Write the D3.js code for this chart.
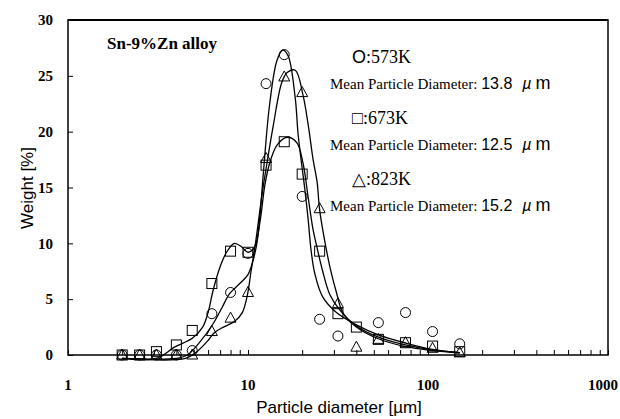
<!DOCTYPE html>
<html><head><meta charset="utf-8">
<script src="https://cdn.jsdelivr.net/npm/d3@7"></script>
<style>body{margin:0;background:#fff}</style>
</head><body>
<svg id="c" width="620" height="419"></svg>
<script>
// ---- data ----
const sizes = [2.0, 2.5, 3.1, 4.0, 4.9, 6.3, 8.0, 10, 12.6, 15.9, 20, 25, 31.6, 40, 53, 75, 106, 150];
const w573 = [0, 0, 0, 0, 0.4, 3.7, 5.6, 9.1, 24.3, 26.9, 14.2, 3.2, 1.7, null, 2.9, 3.8, 2.1, 1.0];
const w673 = [0, 0, 0.3, 0.9, 2.2, 6.4, 9.3, 9.2, 17.0, 19.1, 16.2, 9.3, 3.7, 2.5, 1.4, 1.1, 0.8, 0.3];
const w823 = [0, 0, 0, 0, 0, 2.1, 3.3, 5.6, 17.6, 24.9, 23.5, 13.1, 4.6, 0.7, 1.4, 1.1, 0.6, 0.2];

// fitted curves (x, weight)
const fit573 = [[2,-0.3],[4,-0.3],[4.6,0],[5.3,1.0],[6.4,2.8],[7.2,4.3],[7.9,5.5],[9,6.4],[10,7.2],[10.6,8.3],[11.2,10],[11.7,12.8],[12.2,16.5],[13.2,22.5],[14.5,26.4],[15.6,27.3],[16.7,26.8],[18.3,23],[19,19.7],[20.7,14.8],[21.6,12.1],[22.4,9.4],[23.5,7.3],[26,5.2],[31,3.8],[40,2.7],[53,1.8],[76,1.05],[106,0.5],[150,0.2]];
const fit673 = [[2,-0.3],[3.1,-0.3],[3.9,0.7],[4.9,1.5],[5.6,2.5],[6.0,3.8],[6.4,5.8],[7.0,7.9],[7.6,9.2],[8.4,10.0],[9.2,9.7],[10,9.2],[10.9,9.7],[11.7,12.1],[12.4,15.2],[13.2,17.2],[14.5,18.8],[16.5,19.5],[18.7,19.0],[20.2,17.2],[21.6,14.1],[23,11.2],[24.2,9.6],[26,7.5],[28.5,5.4],[32.5,4.0],[40,2.6],[53,1.6],[75,0.9],[106,0.45],[150,0.2]];
const fit823 = [[2,-0.3],[4.5,-0.3],[5.2,0.3],[6,1.3],[6.5,2.0],[7.3,2.5],[8.4,3.0],[9.3,3.8],[9.9,5.3],[10.4,7.5],[11,10],[12,14.5],[12.9,17.7],[13.8,20.5],[15.4,24.4],[16.5,25.3],[18.3,25.5],[20.2,23.3],[21.6,20.6],[23,17.5],[24.2,15.5],[25,13],[26.7,10.2],[28.5,7.9],[31,5.6],[33.6,3.8],[40,2.5],[52,1.5],[73,0.8],[106,0.4],[150,0.2]];

const yTicks = [0, 5, 10, 15, 20, 25, 30];
const xTicks = [1, 10, 100, 1000];
const legend = [
  {sym: "O", temp: ":573K", mean: "13.8"},
  {sym: "\u25A1", temp: ":673K", mean: "12.5"},
  {sym: "\u25B3", temp: ":823K", mean: "15.2"}
];

// ---- chart ----
const svg = d3.select("#c");
const L = 68, R = 608, T = 20, B = 355;
const x = d3.scaleLog().domain([1, 1000]).range([L, R]);
const y = d3.scaleLinear().domain([0, 30]).range([B, T]);
const serif = "'Liberation Serif', 'Times New Roman', serif";
const sans = "'Liberation Sans', Arial, sans-serif";

// curves
const line = d3.line().x(d => x(d[0])).y(d => y(d[1])).curve(d3.curveCatmullRom.alpha(0.5));
[fit573, fit673, fit823].forEach(f => {
  svg.append("path").attr("d", line(f)).attr("fill", "none").attr("stroke", "#000").attr("stroke-width", 1.3);
});

// markers
const g = svg.append("g").attr("fill", "none").attr("stroke", "#000").attr("stroke-width", 1);
sizes.forEach((s, i) => {
  if (w573[i] != null) g.append("circle").attr("cx", x(s)).attr("cy", y(w573[i])).attr("r", 5);
  if (w673[i] != null) g.append("rect").attr("x", x(s) - 5).attr("y", y(w673[i]) - 5).attr("width", 10).attr("height", 10);
  if (w823[i] != null) {
    const cx = x(s), cy = y(w823[i]);
    g.append("path").attr("d", `M${cx},${cy - 6}L${cx + 5.5},${cy + 4}L${cx - 5.5},${cy + 4}Z`);
  }
});

// frame
svg.append("rect").attr("x", L).attr("y", T).attr("width", R - L).attr("height", B - T)
  .attr("fill", "none").attr("stroke", "#000").attr("stroke-width", 1.5);
svg.append("line").attr("x1", L).attr("x2", R).attr("y1", T).attr("y2", T).attr("stroke", "#000").attr("stroke-width", 2);

// y axis (ticks inward)
const ya = svg.append("g").attr("transform", `translate(${L},0)`)
  .call(d3.axisRight(y).tickValues(yTicks).tickSize(5).tickFormat(""));
ya.select(".domain").remove();
yTicks.forEach(v => {
  svg.append("text").attr("x", L - 15).attr("y", y(v)).attr("dy", "0.35em").attr("text-anchor", "end")
    .attr("font-family", serif).attr("font-weight", "bold").attr("font-size", 15).text(v);
});

// x axis minor ticks inward
const minor = [];
for (let d = 1; d < 1000; d *= 10) for (let k = 1; k < 10; k++) minor.push(d * k);
minor.push(1000);
const xa = svg.append("g").attr("transform", `translate(0,${B})`)
  .call(d3.axisTop(x).tickValues(minor).tickSize(5).tickFormat(""));
xa.select(".domain").remove();
xTicks.forEach(v => {
  const px = v === 1000 ? 603 : x(v);
  svg.append("text").attr("x", px).attr("y", 390).attr("text-anchor", "middle")
    .attr("font-family", serif).attr("font-weight", "bold").attr("font-size", 15).text(v);
});

// axis titles
svg.append("text").attr("x", 339).attr("y", 413).attr("text-anchor", "middle")
  .attr("font-family", sans).attr("font-size", 17).text("Particle diameter [\u00B5m]");
svg.append("text").attr("transform", "translate(33,188) rotate(-90)").attr("text-anchor", "middle")
  .attr("font-family", sans).attr("font-size", 17).text("Weight [%]");

// annotation
svg.append("text").attr("x", 107).attr("y", 49).attr("font-family", serif).attr("font-weight", "bold")
  .attr("font-size", 17).text("Sn-9%Zn alloy");

legend.forEach((d, i) => {
  const y0 = 63 + i * 61;
  const t = svg.append("text").attr("x", 352).attr("y", y0).attr("font-size", 18);
  t.append("tspan").attr("font-family", sans).text(d.sym);
  t.append("tspan").attr("font-family", serif).text(d.temp);
  const yb = y0 + 26;
  const m = svg.append("text").attr("x", 330).attr("y", yb);
  m.append("tspan").attr("font-family", serif).attr("font-size", 15).text("Mean Particle Diameter: ");
  m.append("tspan").attr("font-family", sans).attr("font-size", 16).text(d.mean);
  m.append("tspan").attr("dx", 10).attr("font-family", sans).attr("font-size", 16).attr("font-style", "italic").text("\u00B5");
  m.append("tspan").attr("dx", 4).attr("font-family", sans).attr("font-size", 18).text("m");
});
</script>
</body></html>
